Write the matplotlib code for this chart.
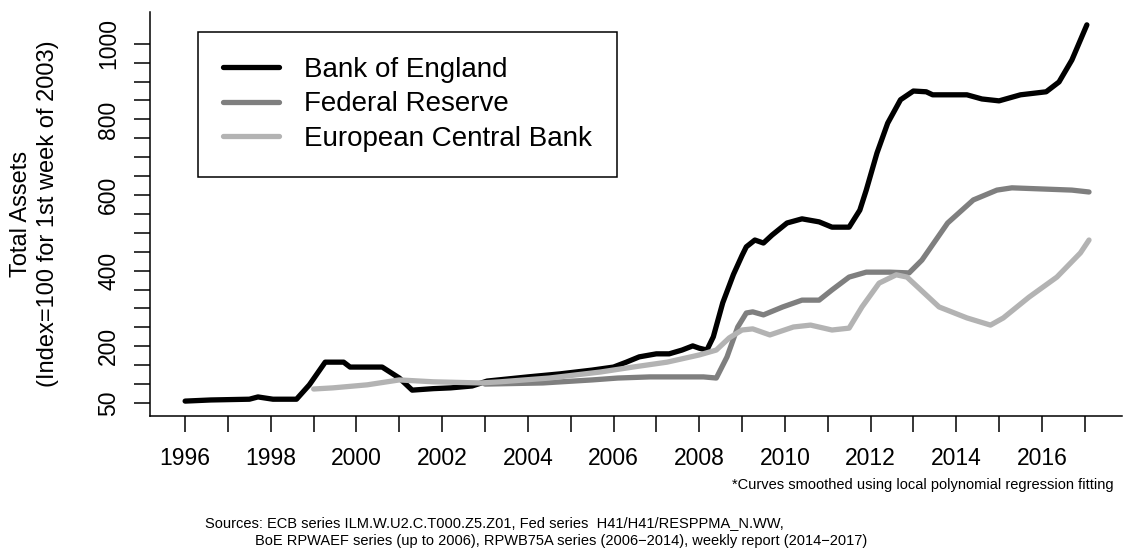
import matplotlib
matplotlib.use("Agg")
import matplotlib.pyplot as plt
from matplotlib.ticker import FixedLocator, FixedFormatter

plt.rcParams['font.family'] = ['Liberation Sans', 'DejaVu Sans']

# Values (index = 100 for 1st week of 2003)
boe_years = [1996.0, 1996.6, 1997.5, 1997.7, 1998.05, 1998.6, 1998.9, 1999.27, 1999.7, 1999.85,
             2000.6, 2001.0, 2001.3, 2001.8, 2002.2, 2002.7, 2003.05, 2004.0, 2004.75, 2005.5,
             2006.0, 2006.3, 2006.6, 2007.0, 2007.3, 2007.6, 2007.85, 2008.0, 2008.18, 2008.33,
             2008.55, 2008.8, 2009.0, 2009.1, 2009.3, 2009.5, 2009.7, 2010.05, 2010.4, 2010.8,
             2011.1, 2011.5, 2011.75, 2011.9, 2012.15, 2012.4, 2012.7, 2013.0, 2013.3, 2013.45,
             2014.25, 2014.6, 2015.0, 2015.5, 2016.1, 2016.4, 2016.7, 2017.05]
boe_vals = [55, 58, 60, 66, 60, 60, 98, 158, 158, 145,
            145, 116, 84, 88, 90, 95, 108, 119, 127, 137,
            145, 158, 172, 180, 180, 190, 201, 195, 190, 225,
            315, 390, 440, 463, 481, 473, 494, 526, 537, 529,
            515, 515, 560, 613, 711, 790, 852, 875, 873, 865,
            865, 854, 849, 865, 873, 899, 957, 1050]

fed_years = [2003.0, 2004.35, 2005.5, 2006.1, 2006.85, 2008.1, 2008.4, 2008.65, 2008.9, 2009.1,
             2009.25, 2009.5, 2009.95, 2010.4, 2010.8, 2011.1, 2011.5, 2011.9, 2012.45, 2012.9,
             2013.2, 2013.8, 2014.4, 2014.95, 2015.3, 2016.7, 2017.1]
fed_vals = [100, 103, 111, 116, 119, 119, 116, 172, 251, 288,
            291, 283, 304, 322, 322, 349, 383, 396, 396, 394,
            428, 526, 587, 613, 619, 613, 608]

ecb_years = [1999.0, 1999.45, 2000.25, 2001.0, 2001.8, 2002.9, 2003.35, 2004.5, 2005.7, 2006.45,
             2007.25, 2008.0, 2008.4, 2008.7, 2009.0, 2009.25, 2009.65, 2010.2, 2010.6, 2011.1,
             2011.5, 2011.8, 2012.2, 2012.6, 2012.85, 2013.6, 2014.25, 2014.8, 2015.1, 2015.7,
             2016.35, 2016.9, 2017.1]
ecb_vals = [87, 90, 98, 111, 106, 103, 106, 116, 132, 145,
            158, 177, 190, 222, 243, 246, 230, 251, 256, 243,
            248, 304, 367, 389, 383, 304, 275, 256, 275, 330,
            383, 447, 481]

series_names = ['Bank of England', 'Federal Reserve', 'European Central Bank']
series_colors = ['black', '#7f7f7f', '#b3b3b3']

year_ticks = list(range(1996, 2018))
year_labels = [str(y) if y % 2 == 0 else '' for y in year_ticks]
value_ticks = list(range(50, 1001, 50))
value_labels = [str(v) if v in (50, 200, 400, 600, 800, 1000) else '' for v in value_ticks]

fig = plt.figure(figsize=(11.25, 5.59), dpi=100)
ax = fig.add_axes([150/1125, 1 - 416/559, 972/1125, 404/559])

for xs, ys, name, col in zip([boe_years, fed_years, ecb_years],
                             [boe_vals, fed_vals, ecb_vals],
                             series_names, series_colors):
    ax.plot(xs, ys, color=col, lw=3.8, label=name,
            solid_capstyle='round', solid_joinstyle='round')

ax.set_xlim(1995.18, 2017.87)
ax.set_ylim(15.6, 1084)

ax.spines['top'].set_visible(False)
ax.spines['right'].set_visible(False)
ax.spines['left'].set_linewidth(1.1)
ax.spines['bottom'].set_linewidth(1.1)

ax.xaxis.set_major_locator(FixedLocator(year_ticks))
ax.xaxis.set_major_formatter(FixedFormatter(year_labels))
ax.yaxis.set_major_locator(FixedLocator(value_ticks))
ax.yaxis.set_major_formatter(FixedFormatter(value_labels))
ax.tick_params(axis='both', direction='out', length=11.5, width=1.1, labelsize=16.5)
ax.tick_params(axis='x', pad=11)
ax.tick_params(axis='y', pad=10)
for lab in ax.get_yticklabels():
    lab.set_rotation(90)
    lab.set_va('center')

fig.text(21/1125, 1 - 214/559, 'Total Assets', rotation=90, fontsize=17,
         ha='center', va='center')
fig.text(48/1125, 1 - 214/559, '(Index=100 for 1st week of 2003)', rotation=90,
         fontsize=17, ha='center', va='center')

leg = ax.legend(loc='upper left', bbox_to_anchor=((198 - 150)/972, (416 - 32)/404),
                borderaxespad=0, fontsize=20, handlelength=2.0, handletextpad=0.9,
                borderpad=0.9, labelspacing=0.3, fancybox=False, framealpha=1)
leg.get_frame().set_edgecolor('black')
leg.get_frame().set_linewidth(1.1)

narrow = ['Liberation Sans Narrow', 'Liberation Sans', 'DejaVu Sans']
fig.text(1114/1125, 1 - 485/559, '*Curves smoothed using local polynomial regression fitting',
         fontsize=10.5, family=narrow, ha='right', va='center')
fig.text(205/1125, 1 - 523/559,
         'Sources: ECB series ILM.W.U2.C.T000.Z5.Z01, Fed series  H41/H41/RESPPMA_N.WW,',
         fontsize=10.5, family=narrow, ha='left', va='center')
fig.text(255/1125, 1 - 541/559,
         'BoE RPWAEF series (up to 2006), RPWB75A series (2006\u22122014), weekly report (2014\u22122017)',
         fontsize=10.5, family=narrow, ha='left', va='center')

fig.savefig('out.png', dpi=100)
